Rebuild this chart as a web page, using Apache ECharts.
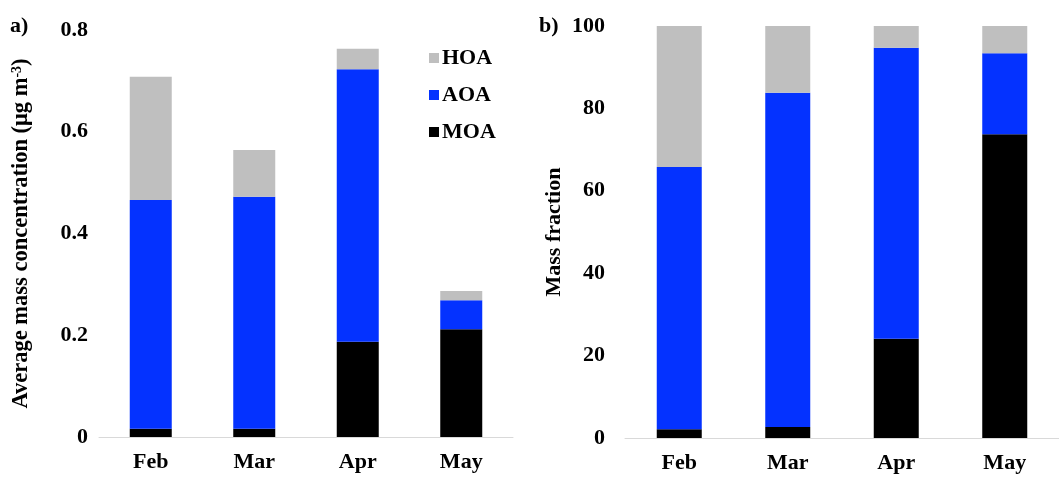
<!DOCTYPE html>
<html lang="en">
<head>
    <meta charset="UTF-8">
    <title>Mass concentration and fraction</title>
    <script src="https://cdn.jsdelivr.net/npm/echarts@6/dist/echarts.min.js"></script>
    <style>
        html, body { margin: 0; padding: 0; background: #fff; }
        #charts { width: 1059px; height: 478px; }
    </style>
</head>
<body>
<div id="charts"></div>

<script>
    // months on the x axis
    var months = ['Feb', 'Mar', 'Apr', 'May'];
    // a) average mass concentration (ug m-3)
    var massMOA = [0.016, 0.016, 0.187, 0.212];
    var massAOA = [0.450, 0.456, 0.536, 0.057];
    var massHOA = [0.242, 0.092, 0.040, 0.018];
    // b) mass fraction (%)
    var fracMOA = [2.1, 2.7, 24.1, 73.7];
    var fracAOA = [63.7, 81.1, 70.6, 19.7];
    var fracHOA = [34.2, 16.2, 5.3, 6.6];
    var massTicks = [0, 0.8, 0.2];
    var fracTicks = [0, 100, 20];

    var font = 'Liberation Serif';
    var colors = { MOA: '#000000', AOA: '#0432FF', HOA: '#BFBFBF' };

    var txt = { fontFamily: font, fontWeight: 'bold', fontSize: 22, color: '#000' };

    function xAxis(idx) {
        return {
            type: 'category',
            gridIndex: idx,
            data: months,
            axisLine: { lineStyle: { color: '#d9d9d9', width: 1 } },
            axisTick: { show: false },
            axisLabel: Object.assign({ margin: 14 }, txt)
        };
    }

    function bar(name, idx, stack, data, width) {
        return {
            name: name,
            type: 'bar',
            stack: stack,
            xAxisIndex: idx,
            yAxisIndex: idx,
            data: data,
            barWidth: width,
            itemStyle: { color: colors[name] }
        };
    }

    var myChart = echarts.init(document.getElementById('charts'));

    myChart.setOption({
        animation: false,
        backgroundColor: '#fff',
        grid: [
            { left: 99, width: 414, top: 30, bottom: 41 },
            { left: 625, width: 446, top: 26, bottom: 40 }
        ],
        legend: {
            data: ['HOA', 'AOA', 'MOA'],
            orient: 'vertical',
            left: 424,
            top: 42,
            itemWidth: 10,
            itemHeight: 10,
            itemGap: 15,
            icon: 'rect',
            textStyle: Object.assign({ padding: [0, 0, 0, -2] }, txt)
        },
        graphic: [
            { type: 'text', left: 10, top: 15, style: { text: 'a)', font: 'bold 22px ' + font, fill: '#000' } },
            { type: 'text', left: 539, top: 15, style: { text: 'b)', font: 'bold 22px ' + font, fill: '#000' } }
        ],
        xAxis: [xAxis(0), xAxis(1)],
        yAxis: [
            {
                type: 'value',
                gridIndex: 0,
                min: massTicks[0],
                max: massTicks[1],
                interval: massTicks[2],
                splitLine: { show: false },
                axisLine: { show: false },
                axisTick: { show: false },
                axisLabel: Object.assign({
                    margin: 11,
                    padding: [0, 0, 7, 0],
                    formatter: function (v) { return v === 0 ? '0' : v.toFixed(1); }
                }, txt),
                name: 'Average mass concentration (μg m{sup|-3})',
                nameLocation: 'middle',
                nameGap: 66,
                nameTextStyle: Object.assign({
                    rich: {
                        sup: { fontFamily: font, fontWeight: 'bold', fontSize: 14, verticalAlign: 'top', padding: [0, 0, 8, 0] }
                    }
                }, txt, { fontSize: 22.5 })
            },
            {
                type: 'value',
                gridIndex: 1,
                min: fracTicks[0],
                max: fracTicks[1],
                interval: fracTicks[2],
                splitLine: { show: false },
                axisLine: { show: false },
                axisTick: { show: false },
                axisLabel: Object.assign({ margin: 20 }, txt),
                name: 'Mass fraction',
                nameLocation: 'middle',
                nameGap: 60,
                nameTextStyle: txt
            }
        ],
        series: [
            bar('MOA', 0, 'mass', massMOA, 42),
            bar('AOA', 0, 'mass', massAOA, 42),
            bar('HOA', 0, 'mass', massHOA, 42),
            bar('MOA', 1, 'frac', fracMOA, 45),
            bar('AOA', 1, 'frac', fracAOA, 45),
            bar('HOA', 1, 'frac', fracHOA, 45)
        ]
    });
</script>
</body>
</html>
